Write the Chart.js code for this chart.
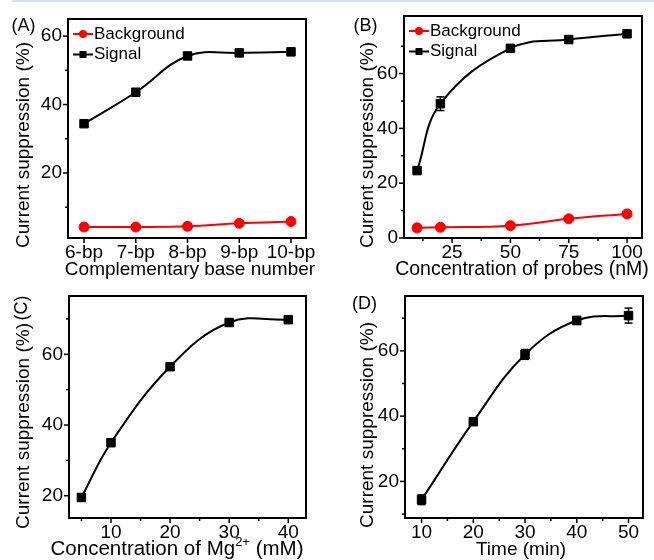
<!DOCTYPE html>
<html>
<head>
<meta charset="utf-8">
<script src="https://cdn.jsdelivr.net/npm/chart.js@4.4.0/dist/chart.umd.min.js"></script>
<style>
  html, body { margin: 0; padding: 0; background: #fff; }
  #page { position: relative; width: 654px; height: 560px; overflow: hidden; }
  #rule { position: absolute; left: 12px; top: 0; width: 642px; height: 2px; background: #d5e3f1; }
  .panel { position: absolute; width: 327px; height: 280px; }
</style>
</head>
<body>
<div id="page">
  <div id="rule"></div>
  <div class="panel" style="left:0;top:0"><canvas id="chartA" width="327" height="280"></canvas></div>
  <div class="panel" style="left:327px;top:0"><canvas id="chartB" width="327" height="280"></canvas></div>
  <div class="panel" style="left:0;top:280px"><canvas id="chartC" width="327" height="280"></canvas></div>
  <div class="panel" style="left:327px;top:280px"><canvas id="chartD" width="327" height="280"></canvas></div>
</div>
<script>
// (A) complementary base number
const baseLabels = ['6-bp', '7-bp', '8-bp', '9-bp', '10-bp'];
const baseSignal = [34.4, 43.6, 54.2, 55.1, 55.4];
const baseSignalErr = [0.8, 1.0, 0.9, 0.9, 0.9];
const baseBackground = [4.2, 4.2, 4.4, 5.3, 5.8];
const baseBackgroundErr = [0.5, 0.5, 0.5, 0.5, 0.5];

// (B) concentration of probes (nM)
const probeConc = [10, 20, 50, 75, 100];
const probeSignal = [24.6, 49.0, 69.2, 72.4, 74.5];
const probeSignalErr = [1.0, 2.5, 1.0, 1.0, 1.2];
const probeBackground = [3.7, 3.9, 4.5, 7.0, 8.8];
const probeBackgroundErr = [0.6, 0.6, 0.8, 0.8, 0.8];

// (C) concentration of Mg2+ (mM)
const mgConc = [5, 10, 20, 30, 40];
const mgSignal = [19.5, 35.0, 56.5, 69.0, 69.8];
const mgSignalErr = [0.8, 1.0, 0.8, 0.8, 0.8];

// (D) time (min)
const timeMin = [10, 20, 30, 40, 50];
const timeSignal = [14.4, 38.3, 58.9, 69.3, 70.8];
const timeSignalErr = [1.5, 1.0, 1.5, 1.2, 2.3];

const FONT = "'Liberation Sans', Arial, Helvetica, sans-serif";
Chart.defaults.font.family = FONT;
Chart.defaults.font.size = 19;
Chart.defaults.color = '#000';

function toPoints(xs, ys) {
    return xs.map((x, i) => ({ x: x, y: ys[i] }));
}

function signalSet(label, xs, ys, errs) {
    return {
        label: label,
        data: toPoints(xs, ys),
        errors: errs,
        borderColor: '#000',
        backgroundColor: '#000',
        borderWidth: 2,
        tension: 0.4,
        pointStyle: 'rect',
        pointRadius: 6,
        pointBorderWidth: 1
    };
}

function backgroundSet(label, xs, ys, errs) {
    return {
        label: label,
        data: toPoints(xs, ys),
        errors: errs,
        borderColor: '#ff0000',
        backgroundColor: '#ff0000',
        borderWidth: 2,
        tension: 0.4,
        pointStyle: 'circle',
        pointRadius: 5,
        pointBorderWidth: 1
    };
}

function line(ctx, x1, y1, x2, y2) {
    ctx.beginPath();
    ctx.moveTo(x1, y1);
    ctx.lineTo(x2, y2);
    ctx.stroke();
}

// frame, outward major/minor ticks, titles, panel label, legend and error bars
const panelDecor = {
    id: 'panelDecor',
    beforeDatasetsDraw(chart) {
        const { ctx } = chart;
        const xs = chart.scales.x, ys = chart.scales.y;
        ctx.save();
        ctx.lineWidth = 1.5;
        chart.data.datasets.forEach(ds => {
            if (!ds.errors) return;
            ctx.strokeStyle = ds.borderColor;
            ds.data.forEach((p, i) => {
                const px = xs.getPixelForValue(p.x);
                const top = ys.getPixelForValue(p.y + ds.errors[i]);
                const bot = ys.getPixelForValue(p.y - ds.errors[i]);
                line(ctx, px, top, px, bot);
                line(ctx, px - 4, top, px + 4, top);
                line(ctx, px - 4, bot, px + 4, bot);
            });
        });
        ctx.restore();
    },
    afterDraw(chart, args, opts) {
        const { ctx, chartArea: a } = chart;
        const xs = chart.scales.x, ys = chart.scales.y;
        ctx.save();
        ctx.strokeStyle = '#000';
        ctx.fillStyle = '#000';

        ctx.lineWidth = 1.5;
        opts.xMajor.forEach(v => { const p = xs.getPixelForValue(v); line(ctx, p, a.bottom, p, a.bottom + 5); });
        opts.xMinor.forEach(v => { const p = xs.getPixelForValue(v); line(ctx, p, a.bottom, p, a.bottom + 3); });
        opts.yMajor.forEach(v => { const p = ys.getPixelForValue(v); line(ctx, a.left, p, a.left - 5, p); });
        opts.yMinor.forEach(v => { const p = ys.getPixelForValue(v); line(ctx, a.left, p, a.left - 3, p); });

        ctx.lineWidth = 2;
        ctx.strokeRect(a.left, a.top, a.width, a.height);

        // y title
        ctx.save();
        ctx.font = `19px ${FONT}`;
        ctx.textAlign = 'center';
        ctx.textBaseline = 'middle';
        ctx.translate(opts.yTitleX, opts.yTitleY);
        ctx.rotate(-Math.PI / 2);
        ctx.fillText('Current suppression (%)', 0, 0);
        ctx.restore();

        // x title, parts may be superscript
        const big = `${opts.xTitleSize}px ${FONT}`, small = `13px ${FONT}`;
        let total = 0;
        opts.xTitle.forEach(part => {
            ctx.font = part.sup ? small : big;
            total += ctx.measureText(part.text).width;
        });
        let cx = opts.xTitleX - total / 2;
        ctx.textAlign = 'left';
        ctx.textBaseline = 'alphabetic';
        opts.xTitle.forEach(part => {
            ctx.font = part.sup ? small : big;
            ctx.fillText(part.text, cx, part.sup ? 266 : 275);
            cx += ctx.measureText(part.text).width;
        });

        // panel label
        ctx.save();
        ctx.font = `18px ${FONT}`;
        ctx.textAlign = 'center';
        ctx.textBaseline = 'middle';
        ctx.translate(opts.label.x, opts.label.y);
        if (opts.label.rotate) ctx.rotate(-Math.PI / 2);
        ctx.fillText(opts.label.text, 0, 0);
        ctx.restore();

        // legend inside the frame
        if (opts.legend) {
            ctx.font = `17px ${FONT}`;
            ctx.textAlign = 'left';
            ctx.textBaseline = 'middle';
            opts.legend.forEach((idx, row) => {
                const ds = chart.data.datasets[idx];
                const y = a.top + 15 + row * 20.5;
                const x0 = a.left + 5, x1 = a.left + 25;
                ctx.strokeStyle = ds.borderColor;
                ctx.fillStyle = ds.backgroundColor;
                ctx.lineWidth = 2;
                line(ctx, x0, y, x1, y);
                const mx = (x0 + x1) / 2;
                if (ds.pointStyle === 'rect') {
                    ctx.fillRect(mx - 3.5, y - 3.5, 7, 7);
                } else {
                    ctx.beginPath();
                    ctx.arc(mx, y, 4, 0, Math.PI * 2);
                    ctx.fill();
                }
                ctx.fillStyle = '#000';
                ctx.fillText(ds.label, x1 + 1, y);
            });
        }
        ctx.restore();
    }
};

function makePanel(id, cfg) {
    return new Chart(document.getElementById(id), {
        type: 'line',
        data: { datasets: cfg.datasets },
        plugins: [panelDecor],
        options: {
            responsive: false,
            animation: false,
            devicePixelRatio: 1,
            layout: { padding: { left: 0, top: cfg.box.top, right: 327 - cfg.box.right, bottom: 0 } },
            plugins: {
                legend: { display: false },
                tooltip: { enabled: false },
                panelDecor: cfg.decor
            },
            scales: {
                x: {
                    type: 'linear',
                    min: cfg.xMin,
                    max: cfg.xMax,
                    afterBuildTicks: s => { s.ticks = cfg.decor.xMajor.map(v => ({ value: v })); },
                    afterFit: s => { s.height = 280 - cfg.box.bottom; s.paddingLeft = 0; s.paddingRight = 0; },
                    grid: { display: false, drawTicks: false },
                    border: { display: false },
                    ticks: {
                        padding: 3,
                        autoSkip: false,
                        maxRotation: 0,
                        callback: cfg.xLabel || (v => v)
                    }
                },
                y: {
                    min: cfg.yMin,
                    max: cfg.yMax,
                    afterBuildTicks: s => { s.ticks = cfg.decor.yMajor.map(v => ({ value: v })); },
                    afterFit: s => { s.width = cfg.box.left; s.paddingTop = 0; s.paddingBottom = 0; },
                    grid: { display: false, drawTicks: false },
                    border: { display: false },
                    ticks: { padding: 6, autoSkip: false }
                }
            }
        }
    });
}

makePanel('chartA', {
    box: { left: 68, right: 306, top: 19, bottom: 238 },
    xMin: -0.31, xMax: 4.29, yMin: 1, yMax: 65,
    xLabel: v => baseLabels[v],
    datasets: [
        backgroundSet('Background', baseLabels.map((l, i) => i), baseBackground, baseBackgroundErr),
        signalSet('Signal', baseLabels.map((l, i) => i), baseSignal, baseSignalErr)
    ],
    decor: {
        xMajor: [0, 1, 2, 3, 4], xMinor: [],
        yMajor: [20, 40, 60], yMinor: [10, 30, 50],
        yTitleX: 24, yTitleY: 145,
        xTitle: [{ text: 'Complementary base number' }], xTitleX: 190, xTitleSize: 19,
        label: { text: '(A)', x: 23.5, y: 26 },
        legend: [0, 1]
    }
});

makePanel('chartB', {
    box: { left: 77, right: 315, top: 16, bottom: 238 },
    xMin: 4.4, xMax: 106.4, yMin: 0, yMax: 81,
    datasets: [
        backgroundSet('Background', probeConc, probeBackground, probeBackgroundErr),
        signalSet('Signal', probeConc, probeSignal, probeSignalErr)
    ],
    decor: {
        xMajor: [25, 50, 75, 100], xMinor: [12.5, 37.5, 62.5, 87.5],
        yMajor: [0, 20, 40, 60], yMinor: [10, 30, 50, 70],
        yTitleX: 41, yTitleY: 145,
        xTitle: [{ text: 'Concentration of probes (nM)' }], xTitleX: 195, xTitleSize: 19.5,
        label: { text: '(B)', x: 38.5, y: 26 },
        legend: [0, 1]
    }
});

makePanel('chartC', {
    box: { left: 69, right: 306, top: 16, bottom: 238 },
    xMin: 2.9, xMax: 43, yMin: 13.7, yMax: 76.5,
    datasets: [signalSet('Signal', mgConc, mgSignal, mgSignalErr)],
    decor: {
        xMajor: [10, 20, 30, 40], xMinor: [5, 15, 25, 35],
        yMajor: [20, 40, 60], yMinor: [30, 50, 70],
        yTitleX: 24, yTitleY: 146,
        xTitle: [{ text: 'Concentration of Mg' }, { text: '2+', sup: true }, { text: ' (mM)' }], xTitleX: 177, xTitleSize: 20.5,
        label: { text: '(C)', x: 22, y: 28, rotate: true }
    }
});

makePanel('chartD', {
    box: { left: 78, right: 316, top: 16, bottom: 238 },
    xMin: 6.8, xMax: 52.8, yMin: 8.8, yMax: 76.8,
    datasets: [signalSet('Signal', timeMin, timeSignal, timeSignalErr)],
    decor: {
        xMajor: [10, 20, 30, 40, 50], xMinor: [15, 25, 35, 45],
        yMajor: [20, 40, 60], yMinor: [10, 30, 50, 70],
        yTitleX: 41, yTitleY: 145,
        xTitle: [{ text: 'Time (min)' }], xTitleX: 194, xTitleSize: 19,
        label: { text: '(D)', x: 37.5, y: 24.5 }
    }
});
</script>
</body>
</html>
